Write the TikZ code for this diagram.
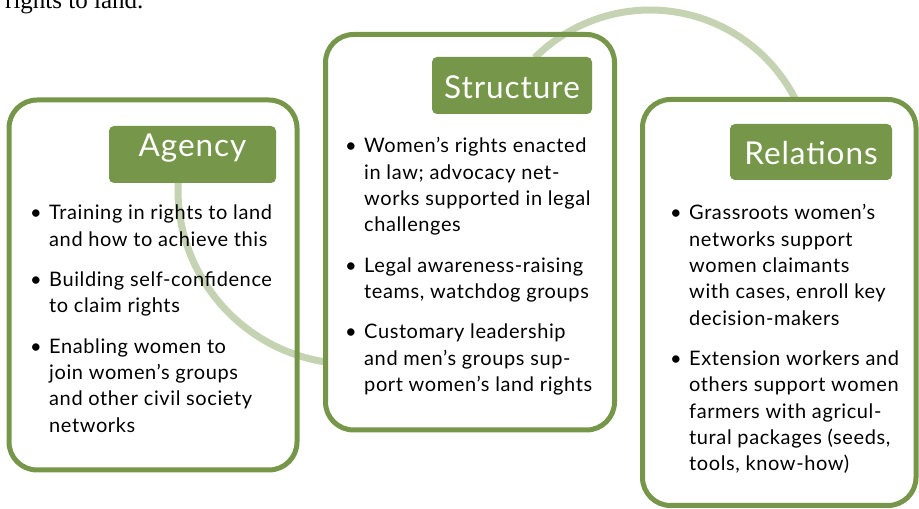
\documentclass[tikz,border=0pt]{standalone}
\usepackage{fontspec}
\setmainfont[LetterSpace=3]{Lato}
\newfontfamily\introfont{Liberation Serif}
\definecolor{leafgreen}{RGB}{118,151,74}
\newcommand{\bul}{\makebox[19pt][l]{\textbullet}}
\begin{document}
\begin{tikzpicture}[x=1pt,y=1pt,
  panel/.style={draw=leafgreen,line width=5pt,fill=white,rounded corners=28pt,inner sep=0pt},
  tab/.style={fill=leafgreen,rounded corners=5pt,text=white,inner sep=0pt,
    font=\fontsize{31.5}{36}\selectfont,text height=30pt,text depth=4pt},
  ring/.style={leafgreen,opacity=0.42,line width=7pt},
  bullets/.style={anchor=base west,inner sep=0pt,font=\fontsize{20}{26.3}\selectfont}]
\useasboundingbox (0,0) rectangle (919,509);

\node[anchor=base west,inner sep=0pt,font=\introfont\fontsize{25}{30}\selectfont] (intro) at (5,500) {rights to land.};

% the three panels
\node[panel,minimum width=288,minimum height=370] (agencybox) at (153,224) {};
\node[panel,minimum width=289,minimum height=395.5] (structurebox) at (470,276.75) {};
\node[panel,minimum width=273.5,minimum height=406] (relationsbox) at (779.25,206.5) {};

% faint ring behind
\coordinate (ringleft) at (352,319);
\coordinate (ringtop) at (650,336);
\draw[ring] (ringleft) ++(177.7:174) arc[start angle=177.7,end angle=261.2,radius=174];
\draw[ring] (ringtop) ++(135:163) arc[start angle=135,end angle=26.8,radius=163];

% title tabs
\node[tab,minimum width=167,minimum height=57,text depth=17pt,text height=22pt] (agencytab) at (192.5,354.5) {Agency};
\node[tab,minimum width=160,minimum height=57] (structuretab) at (512,423.5) {Structure};
\node[tab,minimum width=162,minimum height=56] (relationstab) at (811,357) {Relations};

% lists
\node[bullets] (agencylist) at (30,289) {\begin{tabular}[t]{@{}l@{}l@{}}
\bul & Training in rights to land\\
 & and how to achieve this\\[14pt]
\bul & Building self-confidence\\
 & to claim rights\\[14pt]
\bul & Enabling women to\\
 & join women’s groups\\
 & and other civil society\\
 & networks
\end{tabular}};
\node[bullets] (structurelist) at (345,356) {\begin{tabular}[t]{@{}l@{}l@{}}
\bul & Women’s rights enacted\\
 & in law; advocacy net-\\
 & works supported in legal\\
 & challenges\\[14pt]
\bul & Legal awareness-raising\\
 & teams, watchdog groups\\[14pt]
\bul & Customary leadership\\
 & and men’s groups sup-\\
 & port women’s land rights
\end{tabular}};
\node[bullets] (relationslist) at (670,289) {\begin{tabular}[t]{@{}l@{}l@{}}
\bul & Grassroots women’s\\
 & networks support\\
 & women claimants\\
 & with cases, enroll key\\
 & decision-makers\\[14pt]
\bul & Extension workers and\\
 & others support women\\
 & farmers with agricul-\\
 & tural packages (seeds,\\
 & tools, know-how)
\end{tabular}};
\end{tikzpicture}
\end{document}
